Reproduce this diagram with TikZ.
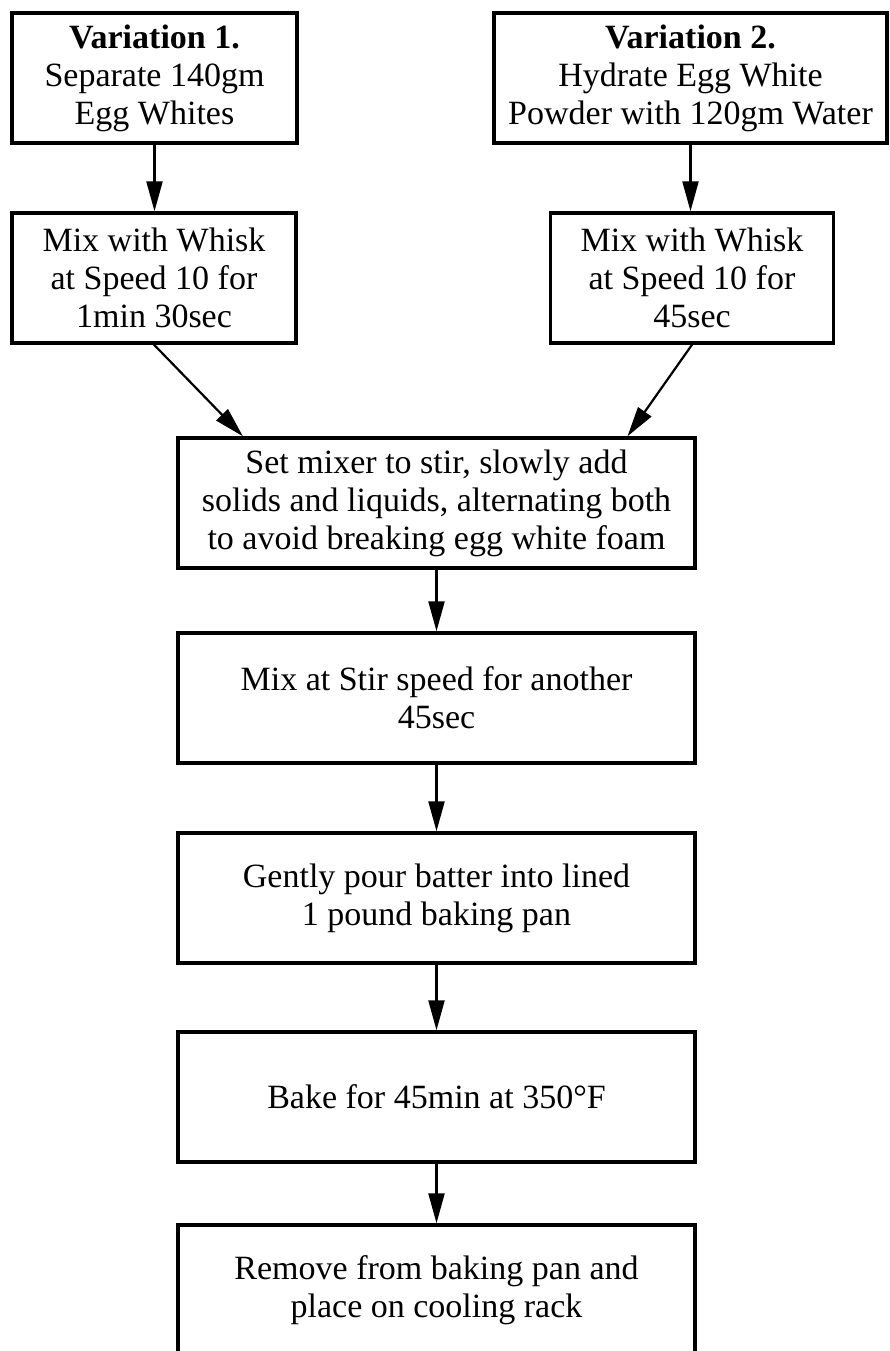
\documentclass[tikz,border=0pt]{standalone}
\usepackage{fontspec}
\setmainfont{Liberation Serif}
\usetikzlibrary{arrows.meta,calc}
\begin{document}
\begin{tikzpicture}[x=1pt,y=-1pt,
  stepbox/.style={draw=black,line width=3.4pt,rectangle,inner sep=0pt,align=center,
    minimum height=130pt,font=\fontsize{34}{38}\selectfont},
  flow/.style={line width=2.2pt,-{Triangle[length=30pt,width=16pt]}}]
\useasboundingbox (0,0) rectangle (889,1351);
\clip (0,0) rectangle (889,1351);
\node[stepbox,minimum width=285pt] (v1) at (154.5,78) {\textbf{Variation 1.}\\Separate 140gm\\Egg Whites};
\node[stepbox,minimum width=393pt] (v2) at (690.5,78) {\textbf{Variation 2.}\\Hydrate Egg White\\Powder with 120gm Water};
\node[stepbox,minimum width=284pt] (w1) at (154,278) {Mix with Whisk\\at Speed 10 for\\1min 30sec};
\node[stepbox,minimum width=283pt] (w2) at (692,278) {Mix with Whisk\\at Speed 10 for\\45sec};
\node[stepbox,minimum width=517pt] (s1) at (436.5,503) {Set mixer to stir, slowly add\\solids and liquids, alternating both\\to avoid breaking egg white foam};
\node[stepbox,minimum width=517pt] (s2) at (436.5,698) {Mix at Stir speed for another\\45sec};
\node[stepbox,minimum width=517pt] (s3) at (436.5,898) {Gently pour batter into lined\\1 pound baking pan};
\node[stepbox,minimum width=517pt] (s4) at (436.5,1097) {Bake for 45min at 350°F};
\node[stepbox,minimum width=517pt] (s5) at (436.5,1290) {Remove from baking pan and\\place on cooling rack};
\coordinate (inL) at ($(s1.north west)!0.128!(s1.north east)$);
\coordinate (inR) at ($(s1.north west)!0.867!(s1.north east)$);
\draw[flow] (v1.south) -- (v1.south |- w1.north);
\draw[flow] (v2.south) -- (v2.south |- w2.north);
\draw[flow] (w1.south) -- (inL);
\draw[flow] (w2.south) -- (inR);
\draw[flow] (s1.south) -- (s2.north);
\draw[flow] (s2.south) -- (s3.north);
\draw[flow] (s3.south) -- (s4.north);
\draw[flow] (s4.south) -- (s5.north);
\end{tikzpicture}
\end{document}
